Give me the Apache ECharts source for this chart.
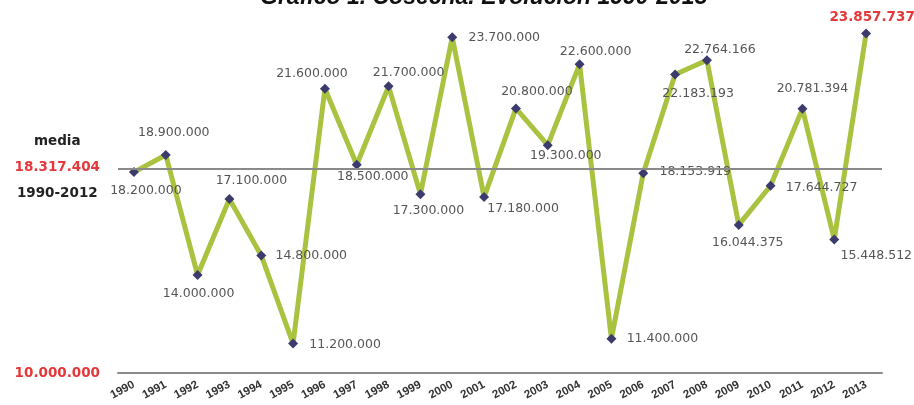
<!DOCTYPE html>
<html>
<head>
<meta charset="utf-8">
<script src="https://cdn.jsdelivr.net/npm/echarts@6/dist/echarts.min.js"></script>
<style>
html,body{margin:0;padding:0;background:#fff;}
#chart{width:914px;height:405px;}
</style>
</head>
<body>
<div id="chart"></div>
<script>
const chartTitle = 'Gráfico 1. Cosecha. Evolución 1990-2013';
const years = ['1990','1991','1992','1993','1994','1995','1996','1997','1998','1999','2000','2001','2002','2003','2004','2005','2006','2007','2008','2009','2010','2011','2012','2013'];
const harvest = [18200000,18900000,14000000,17100000,14800000,11200000,21600000,18500000,21700000,17300000,23700000,17180000,20800000,19300000,22600000,11400000,18153919,22183193,22764166,16044375,17644727,20781394,15448512,23857737];
const meanValue = 18317404;
const meanLabel = 'media';
const meanPeriod = '1990-2012';
const yMin = 10000000;
const yMax = 24000000;

// label placement (style only): offset of each value label from its point
const labelShift = [[12,19],[8,-22],[1,19],[22,-18],[50,0],[52,1],[-13,-15],[16,12],[20,-14],[8,17],[52,0],[39,12],[21,-17],[18,11],[16,-13],[51,0],[52,-1],[23,19],[13,-11],[9,18],[51,2],[10,-20],[42,16],[6,-16]];

function fmt(v){ return String(v).replace(/\B(?=(\d{3})+(?!\d))/g,'.'); }

const lastIdx = harvest.length - 1;
const seriesData = harvest.map((v,i)=>{
  const item = {value:v, label:{offset:labelShift[i]}};
  if(i===lastIdx){
    item.label.color = '#e5383b';
    item.label.fontWeight = 'bold';
    item.label.fontSize = 13.5;
  }
  return item;
});

const chart = echarts.init(document.getElementById('chart'));
chart.setOption({
  backgroundColor:'#fff',
  animation:false,
  title:{
    text:chartTitle, left:255, top:-19,
    textStyle:{fontFamily:'Liberation Sans', fontStyle:'italic', fontWeight:'bold', fontSize:23, color:'#111'}
  },
  grid:{left:118, right:32, top:30, bottom:32, containLabel:false},
  xAxis:{
    type:'category', data:years, boundaryGap:true,
    axisLine:{lineStyle:{color:'#8a8a8a', width:2}},
    axisTick:{show:false},
    axisLabel:{rotate:28, margin:11, interval:0, fontFamily:'Liberation Sans', fontWeight:'bold', fontSize:11.5, color:'#333'}
  },
  yAxis:{
    type:'value', min:yMin, max:yMax, interval:yMax-yMin,
    axisLine:{show:false}, axisTick:{show:false}, splitLine:{show:false},
    axisLabel:{
      margin:18,
      formatter:(v)=> v===yMin ? fmt(v) : '',
      fontFamily:'DejaVu Sans', fontWeight:'bold', fontSize:13.5, color:'#e5383b'
    }
  },
  series:[{
    type:'line', data:seriesData,
    lineStyle:{color:'#a9c23f', width:5},
    itemStyle:{color:'#3b3b6e'},
    symbol:'diamond', symbolSize:10,
    z:3,
    label:{
      show:true, position:'inside',
      formatter:(p)=>fmt(p.value),
      fontFamily:'DejaVu Sans', fontSize:12.5, color:'#555'
    },
    markLine:{
      silent:true, symbol:'none',
      lineStyle:{color:'#8a8a8a', width:2, type:'solid'},
      data:[{yAxis:meanValue}],
      label:{
        position:'start', distance:18, offset:[0,-2],
        formatter:()=>'{m|'+meanLabel+'}\n{r|'+fmt(meanValue)+'}\n{k|'+meanPeriod+'}',
        rich:{
          m:{fontFamily:'DejaVu Sans', fontWeight:'bold', fontSize:13.5, color:'#222', lineHeight:26, align:'center'},
          r:{fontFamily:'DejaVu Sans', fontWeight:'bold', fontSize:13.5, color:'#e5383b', lineHeight:26, align:'center'},
          k:{fontFamily:'DejaVu Sans', fontWeight:'bold', fontSize:13.5, color:'#222', lineHeight:26, align:'center'}
        }
      }
    }
  }]
});
</script>
</body>
</html>
